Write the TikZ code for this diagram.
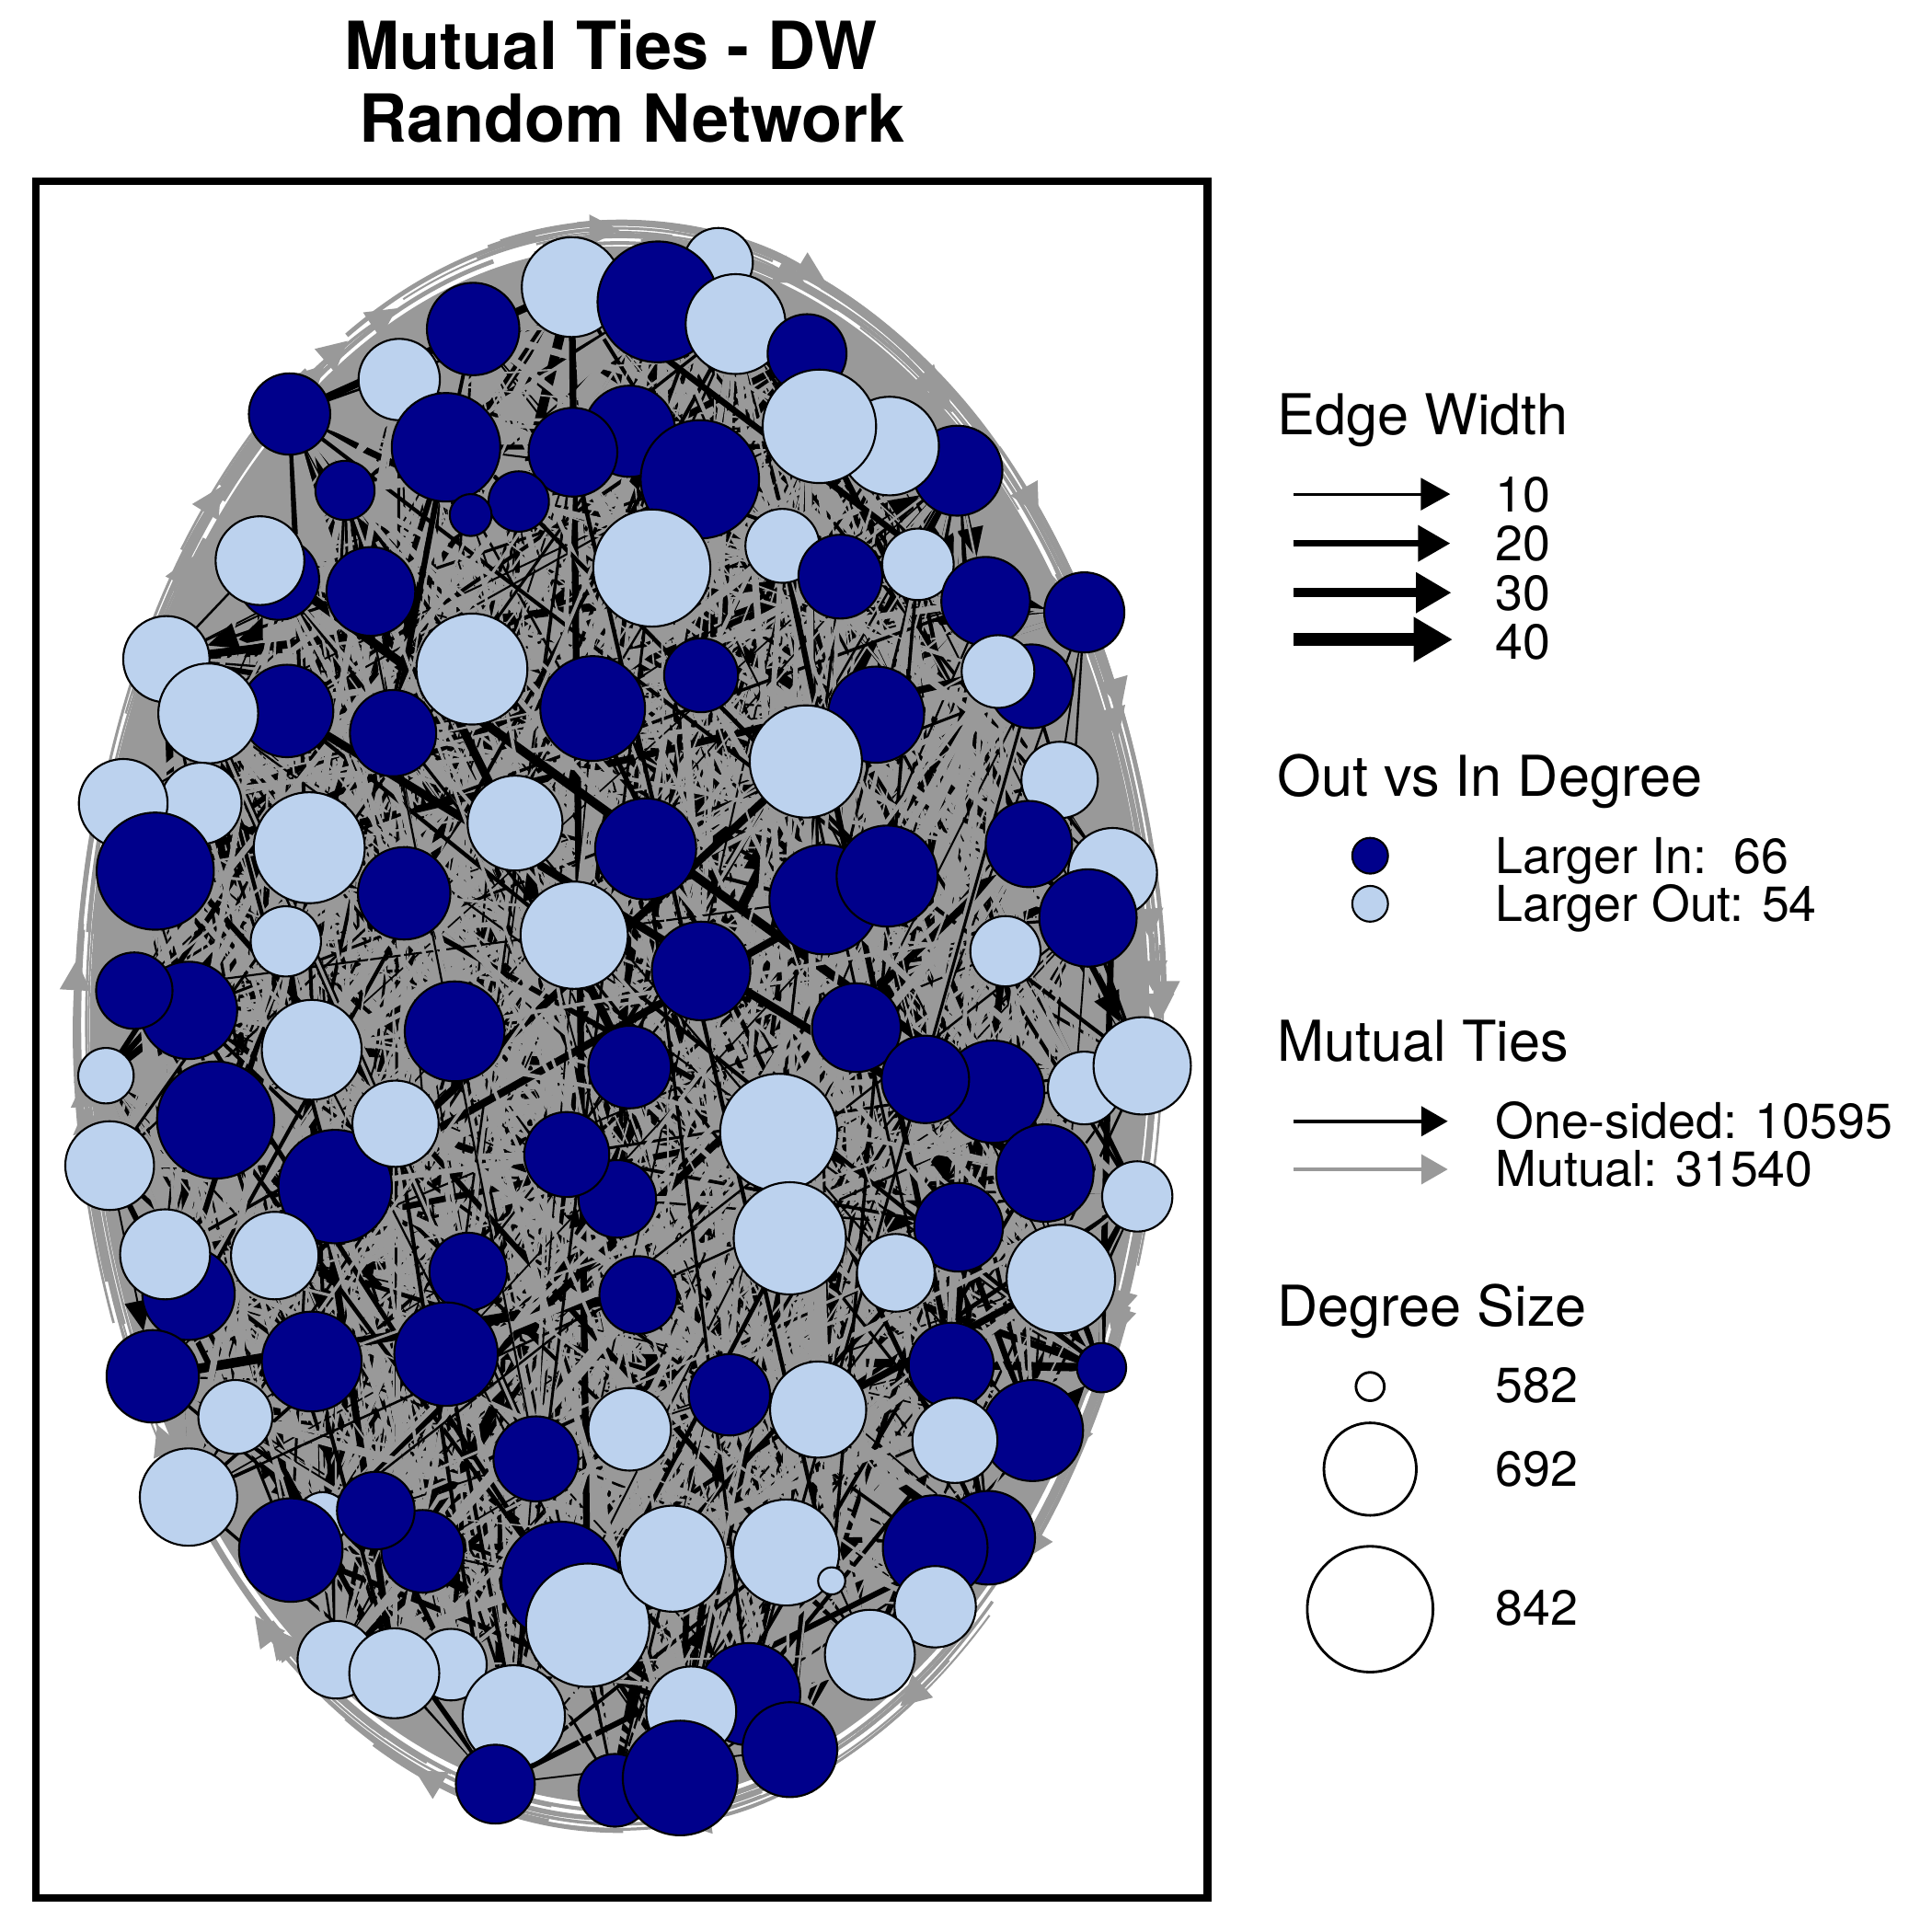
\documentclass[tikz,border=0pt]{standalone}
\usepackage{fontspec}
\setmainfont{TeX Gyre Heros}
\usetikzlibrary{arrows.meta}
\definecolor{dkblue}{RGB}{0,0,139}
\definecolor{ltblue}{RGB}{188,210,238}
\definecolor{grayE}{RGB}{153,153,153}
\pgfdeclarelayer{edges}
\pgfsetlayers{edges,main}
\begin{document}
\begin{tikzpicture}[x=0.01cm,y=-0.01cm,
  vtx/.style={circle,draw=black,line width=0.45pt,inner sep=0pt,outer sep=0pt},
  nodeD/.style={vtx,fill=dkblue},
  nodeL/.style={vtx,fill=ltblue},
  nodeW/.style={vtx,fill=white,line width=0.6pt},
  head/.style={font=\fontsize{13}{15}\selectfont,anchor=base west,inner sep=0pt},
  lab/.style={font=\fontsize{11.4}{13}\selectfont,anchor=base west,inner sep=0pt},
  ttl/.style={font=\bfseries\fontsize{15.3}{18}\selectfont,anchor=base,inner sep=0pt}]
\useasboundingbox (0,0) rectangle (1568,1568);
% ---------------- vertices ----------------
\foreach \x/\y/\r/\t [count=\i] in {
583/213/28/L, 464/233/40.5/L, 534/245/49/D, 597/263/40.5/L, 384/267/37.5/D,
655/287/32/D, 324/308/33/L, 235/336/33/D, 511/350/37/D, 465/367/36/D,
362/363/44/D, 777/382/36.5/D, 722/362/40/L, 665/346/46/L, 568/389/48/D,
280/398/24/D, 421/407/24.5/D, 382/418/17/D, 529/461/47.5/L, 635/443/30/L,
682/468/34/D, 745/458/29/L, 226/470/33/D, 211/455/36/L, 301/480/36/D,
800/488/36/D, 880/497/32.5/D, 135/535/35/L, 383/543/45/L, 569/548/30/D,
837/557/34/D, 810/545/29.5/L, 233/577/37.5/D, 169/579/40.5/L, 319/595/35/D,
481/575/42.5/D, 711/580/39/D, 654/618/45.5/L, 860/633/31/L, 163/652/33/L,
100/652/36/L, 251/688/45/L, 418/668/38.5/L, 524/689/41/D, 903/708/36/L,
835/685/35/D, 126/707/47.5/D, 669/730/44.5/D, 720/711/41/D, 328/725/37.5/D,
883/745/39.5/D, 232/764/28.5/L, 466/759/43.5/L, 816/772/28.5/L, 569/788/40/D,
153/820/39.5/D, 109/804/31/D, 369/837/40.5/D, 253/852/40.5/L, 695/834/36/D,
86/873/22.5/L, 511/866/33.5/D, 806/886/41.5/D, 751/876/35.5/D, 880/883/29.5/L,
927/865/39.5/L, 175/909/47.5/D, 272/963/46/D, 321/912/35/L, 632/919/47.5/L,
89/946/36/L, 501/973/31.5/D, 460/937/34.5/D, 848/952/39.5/D, 923/971/28.5/L,
778/996/36/D, 641/1005/45.5/L, 153/1050/37.5/D, 134/1018/36.5/L, 223/1019/35.5/L,
380/1032/31.5/D, 727/1033/31.5/L, 861/1038/44/L, 518/1051/31.5/D, 124/1117/37.5/D,
253/1105/40.5/D, 362/1099/42/D, 772/1108/34.5/D, 894/1110/20/D, 592/1132/33/D,
664/1144/39/L, 191/1150/30/L, 511/1160/33.5/L, 838/1161/41/D, 775/1169/34.5/L,
435/1184/34.5/D, 153/1215/39.5/L, 262/1232/21/L, 236/1258/42/D, 343/1259/33.5/D,
305/1226/31.5/D, 455/1283/48/D, 477/1319/50/L, 546/1265/43/L, 638/1260/43/L,
675/1283/11/L, 802/1248/38/D, 759/1256/42.5/D, 759/1304/33/L, 706/1343/36.5/L,
273/1347/31.5/L, 366/1351/29/L, 320/1358/36.5/L, 417/1393/41.5/L, 608/1375/41.5/D,
561/1389/36.5/L, 641/1420/38.5/D, 402/1448/32/D, 499/1453/29.5/D, 552/1443/46.5/D}{
  \pgfmathsetmacro\sz{0.2*\r}
  \node[node\t,minimum size=\sz mm] (n\i) at (\x,\y) {};
  \xdef\NN{\i}
}
\pgfmathtruncatemacro\NM{\NN-1}
% ---------------- edges ----------------
\begin{pgfonlayer}{edges}
\fill[grayE] (503,832) ellipse [x radius=430, y radius=632];
\pgfmathsetseed{20231}
\foreach \k in {1,...,110}{
  \pgfmathsetmacro\sa{360*rnd}
  \pgfmathsetmacro\sw{10+25*rnd}
  \pgfmathsetmacro\fr{0.995+0.03*rnd}
  \pgfmathsetmacro\rx{432*\fr}
  \pgfmathsetmacro\ry{638*\fr}
  \pgfmathsetmacro\lw{0.4+0.7*rnd}
  \pgfmathsetmacro\q{rnd}
  \ifdim\q pt<0.3pt
    \draw[grayE,line width=\lw pt,-{Triangle[length=7pt,width=7pt]}] ({503+\rx*cos(\sa)},{832+\ry*sin(\sa)}) arc[start angle=\sa, delta angle=\sw, x radius=\rx, y radius=\ry];
  \else
    \draw[grayE,line width=\lw pt] ({503+\rx*cos(\sa)},{832+\ry*sin(\sa)}) arc[start angle=\sa, delta angle=\sw, x radius=\rx, y radius=\ry];
  \fi
}
\foreach \k in {1,...,2300}{
  \pgfmathtruncatemacro\a{random(1,\NN)}
  \pgfmathtruncatemacro\b{mod(\a+random(1,\NM)-1,\NN)+1}
  \pgfmathsetmacro\c{rnd}
  \pgfmathsetmacro\d{rnd}
  \pgfmathsetmacro\w{0.35+2.0*rnd*rnd}
  \ifdim\c pt<0.3pt
    \ifdim\d pt<0.12pt
      \draw[black,line width=\w pt,-{Triangle[length=7pt,width=6pt]}] (n\a) -- (n\b);
    \else
      \draw[black,line width=\w pt] (n\a) -- (n\b);
    \fi
  \else
    \draw[grayE,line width=\w pt] (n\a) -- (n\b);
  \fi
}
\end{pgfonlayer}
% ---------------- frame and title ----------------
\draw[line width=1.7pt] (29,147) rectangle (980,1540);
\node[ttl] (t1) at (495.5,56) {Mutual Ties - DW};
\node[ttl] (t2) at (513,115) {Random Network};
% ---------------- legend: edge width ----------------
\node[head] (hEW) at (1036,353) {Edge Width};
\coordinate (w1a) at (1050,401); \coordinate (w1b) at (1177,401);
\coordinate (w2a) at (1050,441); \coordinate (w2b) at (1177,441);
\coordinate (w3a) at (1050,481); \coordinate (w3b) at (1178,481);
\coordinate (w4a) at (1050,519); \coordinate (w4b) at (1179,519);
\draw[line width=0.65pt,-{Triangle[length=6.8pt,width=7.4pt]}] (w1a) -- (w1b);
\draw[line width=1.4pt,-{Triangle[length=7.4pt,width=8.1pt]}] (w2a) -- (w2b);
\draw[line width=2.1pt,-{Triangle[length=8.2pt,width=8.9pt]}] (w3a) -- (w3b);
\draw[line width=2.9pt,-{Triangle[length=9pt,width=9.8pt]}] (w4a) -- (w4b);
\node[lab] (l10) at (1213,415.5) {10};
\node[lab] (l20) at (1213,455.3) {20};
\node[lab] (l30) at (1213,495.2) {30};
\node[lab] (l40) at (1213,535) {40};
% ---------------- legend: out vs in ----------------
\node[head] (hOI) at (1036,646.5) {Out vs In Degree};
\node[nodeD,minimum size=2.9mm] (kD) at (1112,694.5) {};
\node[nodeL,minimum size=2.9mm] (kL) at (1112,733.5) {};
\node[lab] (lIn) at (1213,709) {Larger In:\ \ 66};
\node[lab] (lOut) at (1213,748) {Larger Out: 54};
% ---------------- legend: mutual ties ----------------
\node[head] (hMT) at (1036,861) {Mutual Ties};
\coordinate (m1a) at (1050,910); \coordinate (m1b) at (1175,910);
\coordinate (m2a) at (1050,949); \coordinate (m2b) at (1175,949);
\draw[line width=0.8pt,-{Triangle[length=6.1pt,width=6.8pt]}] (m1a) -- (m1b);
\draw[grayE,line width=0.8pt,-{Triangle[length=6.1pt,width=6.8pt]}] (m2a) -- (m2b);
\node[lab] (lOne) at (1213,923.8) {One-sided: 10595};
\node[lab] (lMut) at (1213,963) {Mutual: 31540};
% ---------------- legend: degree size ----------------
\node[head] (hDS) at (1036,1076) {Degree Size};
\node[nodeW,minimum size=2.3mm] (s1) at (1112,1125.3) {};
\node[nodeW,minimum size=7.5mm] (s2) at (1112,1192.3) {};
\node[nodeW,minimum size=10.2mm] (s3) at (1112,1306) {};
\node[lab] (l582) at (1213,1138.5) {582};
\node[lab] (l692) at (1213,1206.5) {692};
\node[lab] (l842) at (1213,1319) {842};
\end{tikzpicture}
\end{document}
